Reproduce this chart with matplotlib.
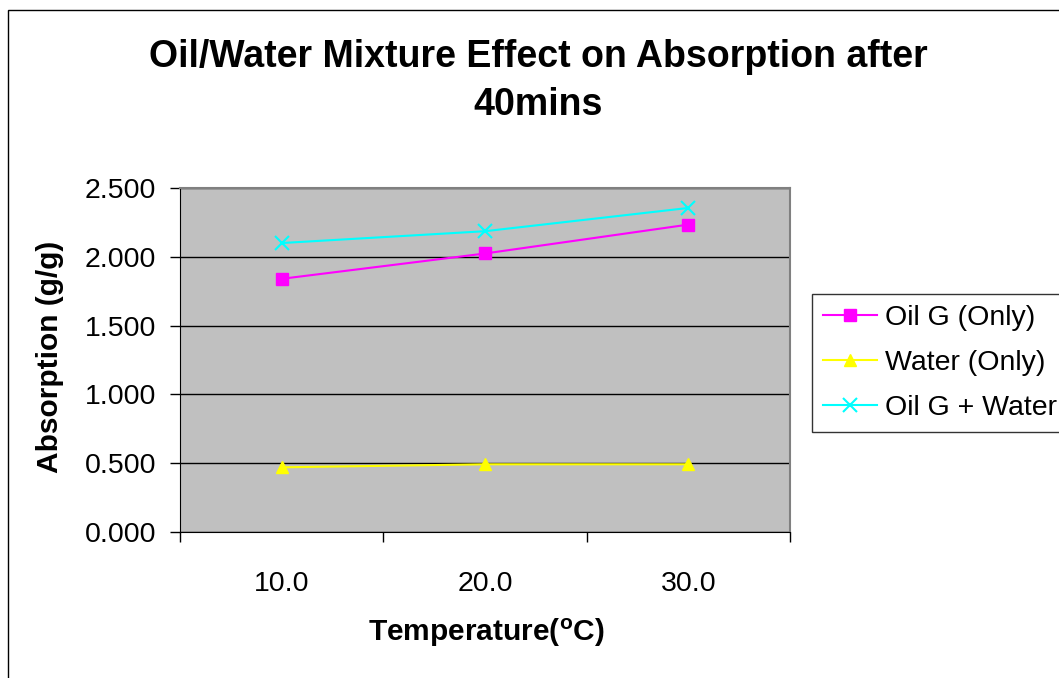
import matplotlib.pyplot as plt
from matplotlib.patches import Rectangle

plt.rcParams['font.family'] = ['Liberation Sans', 'DejaVu Sans']

# data
temps = ['10.0', '20.0', '30.0']
oil_only = [1.840, 2.024, 2.234]
water_only = [0.470, 0.492, 0.492]
oil_water = [2.100, 2.186, 2.355]
y_ticks = [0.0, 0.5, 1.0, 1.5, 2.0, 2.5]

fig = plt.figure(figsize=(10.59, 6.78), dpi=100)

# outer chart frame (runs off the right and bottom edges)
fig.patches.append(Rectangle((8 / 1059, -0.1), 1.2, 1 - 10 / 678 + 0.1,
                             transform=fig.transFigure, fill=False,
                             edgecolor='black', linewidth=1))

ax = fig.add_axes([180 / 1059, 1 - 532 / 678, 610 / 1059, 344 / 678])
ax.set_facecolor('#C0C0C0')

x = range(len(temps))
ax.plot(x, oil_only, color='#FF00FF', marker='s', markersize=8, linewidth=1.5,
        label='Oil G (Only)')
ax.plot(x, water_only, color='#FFFF00', marker='^', markersize=9, linewidth=1.5,
        label='Water (Only)')
ax.plot(x, oil_water, color='#00FFFF', marker='x', markersize=10, markeredgewidth=1.5,
        linewidth=1.5, label='Oil G + Water')

ax.set_xlim(-0.5, len(temps) - 0.5)
ax.set_ylim(0, 2.5)
ax.set_yticks(y_ticks)
ax.set_yticklabels(['%.3f' % v for v in y_ticks], fontsize=20.5)
ax.yaxis.grid(True, color='black', linewidth=1)
ax.set_axisbelow(True)

# category boundaries get the tick marks, labels sit between them
ax.set_xticks([i - 0.5 for i in range(len(temps) + 1)])
ax.set_xticklabels([])
ax.set_xticks(list(x), minor=True)
ax.set_xticklabels(temps, minor=True, fontsize=20.5)
ax.tick_params(axis='x', which='minor', length=0, pad=28)
ax.tick_params(axis='both', which='major', direction='out', length=7, width=1)
ax.tick_params(axis='y', which='major', pad=10)

for s in ['top', 'right']:
    ax.spines[s].set_color('#808080')
    ax.spines[s].set_linewidth(1.5)
for s in ['left', 'bottom']:
    ax.spines[s].set_color('black')

fig.text(538 / 1059, 1 - 57 / 678, 'Oil/Water Mixture Effect on Absorption after',
         ha='center', va='center', fontsize=27, fontweight='bold')
fig.text(538 / 1059, 1 - 105 / 678, '40mins',
         ha='center', va='center', fontsize=27, fontweight='bold')

fig.text(486 / 1059, 1 - 633 / 678, r'Temperature($\mathregular{^o}$C)',
         ha='center', va='center', fontsize=21.5, fontweight='bold')
fig.text(50 / 1059, 1 - 357 / 678, 'Absorption (g/g)', rotation=90,
         ha='center', va='center', fontsize=21.5, fontweight='bold')

leg = ax.legend(loc='upper left', bbox_to_anchor=(812 / 1059, 1 - 294 / 678),
                bbox_transform=fig.transFigure, fontsize=20.5, frameon=True,
                fancybox=False, edgecolor='black', handlelength=1.9,
                borderpad=0.4, borderaxespad=0, labelspacing=0.66,
                handletextpad=0.25)
leg.get_frame().set_linewidth(1)

fig.savefig('out.png', dpi=100)
